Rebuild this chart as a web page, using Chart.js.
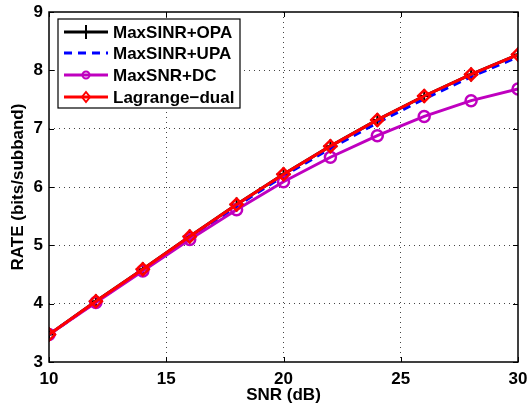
<!DOCTYPE html>
<html>
<head>
<meta charset="utf-8">
<script src="https://cdn.jsdelivr.net/npm/chart.js@4"></script>
<style>
html,body{margin:0;padding:0;background:#fff;}
#wrap{width:528px;height:408px;position:relative;}
</style>
</head>
<body>
<div id="wrap"><canvas id="c" width="528" height="408"></canvas></div>
<script>
const snr = [10, 12, 14, 16, 18, 20, 22, 24, 26, 28, 30];
const rateOPA = [3.47, 4.04, 4.59, 5.15, 5.70, 6.22, 6.70, 7.15, 7.56, 7.93, 8.27];
const rateUPA = [3.47, 4.03, 4.58, 5.13, 5.67, 6.19, 6.66, 7.10, 7.51, 7.89, 8.23];
const rateDC  = [3.47, 4.02, 4.56, 5.10, 5.61, 6.09, 6.51, 6.88, 7.21, 7.48, 7.68];
const rateLag = [3.47, 4.04, 4.59, 5.15, 5.70, 6.22, 6.70, 7.15, 7.56, 7.93, 8.27];
const seriesNames = ['MaxSINR+OPA', 'MaxSINR+UPA', 'MaxSNR+DC', 'Lagrange\u2212dual'];
const xTicks = [10, 15, 20, 25, 30];
const yTicks = [3, 4, 5, 6, 7, 8, 9];

const FONT = 'Liberation Sans, Arial, Helvetica, sans-serif';
const pts = arr => arr.map((v, i) => ({x: snr[i], y: v}));

const framePlugin = {
  id: 'frame',
  afterDatasetsDraw(chart) {
    const {ctx, chartArea: a, scales} = chart;
    ctx.save();
    ctx.strokeStyle = '#000';
    ctx.lineWidth = 1.5;
    ctx.strokeRect(a.left, a.top, a.right - a.left, a.bottom - a.top);
    ctx.lineWidth = 1;
    const tl = 5;
    xTicks.forEach(v => {
      const x = Math.round(scales.x.getPixelForValue(v)) + 0.5;
      ctx.beginPath();
      ctx.moveTo(x, a.bottom); ctx.lineTo(x, a.bottom - tl);
      ctx.moveTo(x, a.top); ctx.lineTo(x, a.top + tl);
      ctx.stroke();
    });
    yTicks.forEach(v => {
      const y = Math.round(scales.y.getPixelForValue(v)) + 0.5;
      ctx.beginPath();
      ctx.moveTo(a.left, y); ctx.lineTo(a.left + tl, y);
      ctx.moveTo(a.right, y); ctx.lineTo(a.right - tl, y);
      ctx.stroke();
    });
    ctx.restore();
  },
  afterDraw(chart) {
    const {ctx} = chart;
    const bx = 58, by = 19, bw = 182, bh = 89;
    ctx.save();
    ctx.fillStyle = '#fff';
    ctx.fillRect(bx, by, bw, bh);
    ctx.strokeStyle = '#000';
    ctx.lineWidth = 1.2;
    ctx.strokeRect(bx, by, bw, bh);
    const rows = [32, 53, 75, 97];
    chart.data.datasets.forEach((ds, i) => {
      const y = rows[i];
      const x0 = 64, x1 = 108, xm = (x0 + x1) / 2;
      ctx.strokeStyle = ds.borderColor;
      ctx.lineWidth = ds.borderWidth;
      ctx.setLineDash(ds.borderDash || []);
      ctx.beginPath(); ctx.moveTo(x0, y); ctx.lineTo(x1, y); ctx.stroke();
      ctx.setLineDash([]);
      ctx.lineWidth = 2;
      ctx.strokeStyle = ds.pointBorderColor || ds.borderColor;
      if (ds.pointStyle === 'cross') {
        ctx.beginPath();
        ctx.moveTo(xm - 7, y); ctx.lineTo(xm + 7, y);
        ctx.moveTo(xm, y - 7); ctx.lineTo(xm, y + 7);
        ctx.stroke();
      } else if (ds.pointStyle === 'circle') {
        ctx.beginPath(); ctx.arc(xm, y, 3.5, 0, Math.PI * 2); ctx.stroke();
      } else if (ds.pointStyle === 'rectRot') {
        ctx.beginPath();
        ctx.moveTo(xm, y - 5); ctx.lineTo(xm + 4, y); ctx.lineTo(xm, y + 5); ctx.lineTo(xm - 4, y);
        ctx.closePath(); ctx.stroke();
      }
      ctx.fillStyle = '#000';
      ctx.font = 'bold 17px ' + FONT;
      ctx.textBaseline = 'middle';
      ctx.textAlign = 'left';
      ctx.fillText(ds.label, 113, y + 1);
    });
    ctx.restore();
  }
};

new Chart(document.getElementById('c'), {
  type: 'line',
  data: {
    datasets: [
      {label: seriesNames[0], data: pts(rateOPA), borderColor: '#000', borderWidth: 3,
       pointStyle: 'cross', pointRadius: 7, pointBorderWidth: 2, pointBorderColor: '#000',
       backgroundColor: 'transparent', order: 3},
      {label: seriesNames[1], data: pts(rateUPA), borderColor: '#0000ff', borderWidth: 3,
       borderDash: [8, 6], pointRadius: 0, backgroundColor: 'transparent', order: 2},
      {label: seriesNames[2], data: pts(rateDC), borderColor: '#bf00bf', borderWidth: 3,
       pointStyle: 'circle', pointRadius: 5.5, pointBorderWidth: 2.5, pointBorderColor: '#bf00bf',
       pointBackgroundColor: 'transparent', backgroundColor: 'transparent', order: 1},
      {label: seriesNames[3], data: pts(rateLag), borderColor: '#ff0000', borderWidth: 3,
       pointStyle: 'rectRot', pointRadius: 6, pointBorderWidth: 2.5, pointBorderColor: '#ff0000',
       pointBackgroundColor: 'transparent', backgroundColor: 'transparent', order: 0}
    ]
  },
  options: {
    responsive: false,
    animation: false,
    devicePixelRatio: 1,
    layout: {padding: {top: 12, right: 10, left: 0, bottom: 0}},
    plugins: {legend: {display: false}, tooltip: {enabled: false}},
    scales: {
      x: {
        type: 'linear', min: 10, max: 30,
        afterBuildTicks: s => { s.ticks = xTicks.map(v => ({value: v})); },
        afterFit: s => { s.height = 46; s.paddingLeft = 0; s.paddingRight = 0; },
        ticks: {color: '#000', font: {family: FONT, size: 17, weight: 'bold'}, padding: 7, maxRotation: 0},
        grid: {color: ctx => (ctx.tick && (ctx.tick.value === 10 || ctx.tick.value === 30)) ? 'transparent' : '#444',
               lineWidth: 1, drawTicks: false},
        border: {display: false, dash: [1, 4]},
        title: {display: true, text: 'SNR (dB)', color: '#000',
                font: {family: FONT, size: 17, weight: 'bold'}, padding: {top: 0, bottom: 2}}
      },
      y: {
        type: 'linear', min: 3, max: 9,
        afterBuildTicks: s => { s.ticks = yTicks.map(v => ({value: v})); },
        afterFit: s => { s.width = 49; s.paddingTop = 0; s.paddingBottom = 0; },
        ticks: {color: '#000', font: {family: FONT, size: 17, weight: 'bold'}, padding: 6},
        grid: {color: ctx => (ctx.tick && (ctx.tick.value === 3 || ctx.tick.value === 9)) ? 'transparent' : '#444',
               lineWidth: 1, drawTicks: false},
        border: {display: false, dash: [1, 4]},
        title: {display: true, text: 'RATE (bits/subband)', color: '#000',
                font: {family: FONT, size: 17, weight: 'bold'}, padding: {top: 8, bottom: 0}}
      }
    }
  },
  plugins: [framePlugin]
});
</script>
</body>
</html>
